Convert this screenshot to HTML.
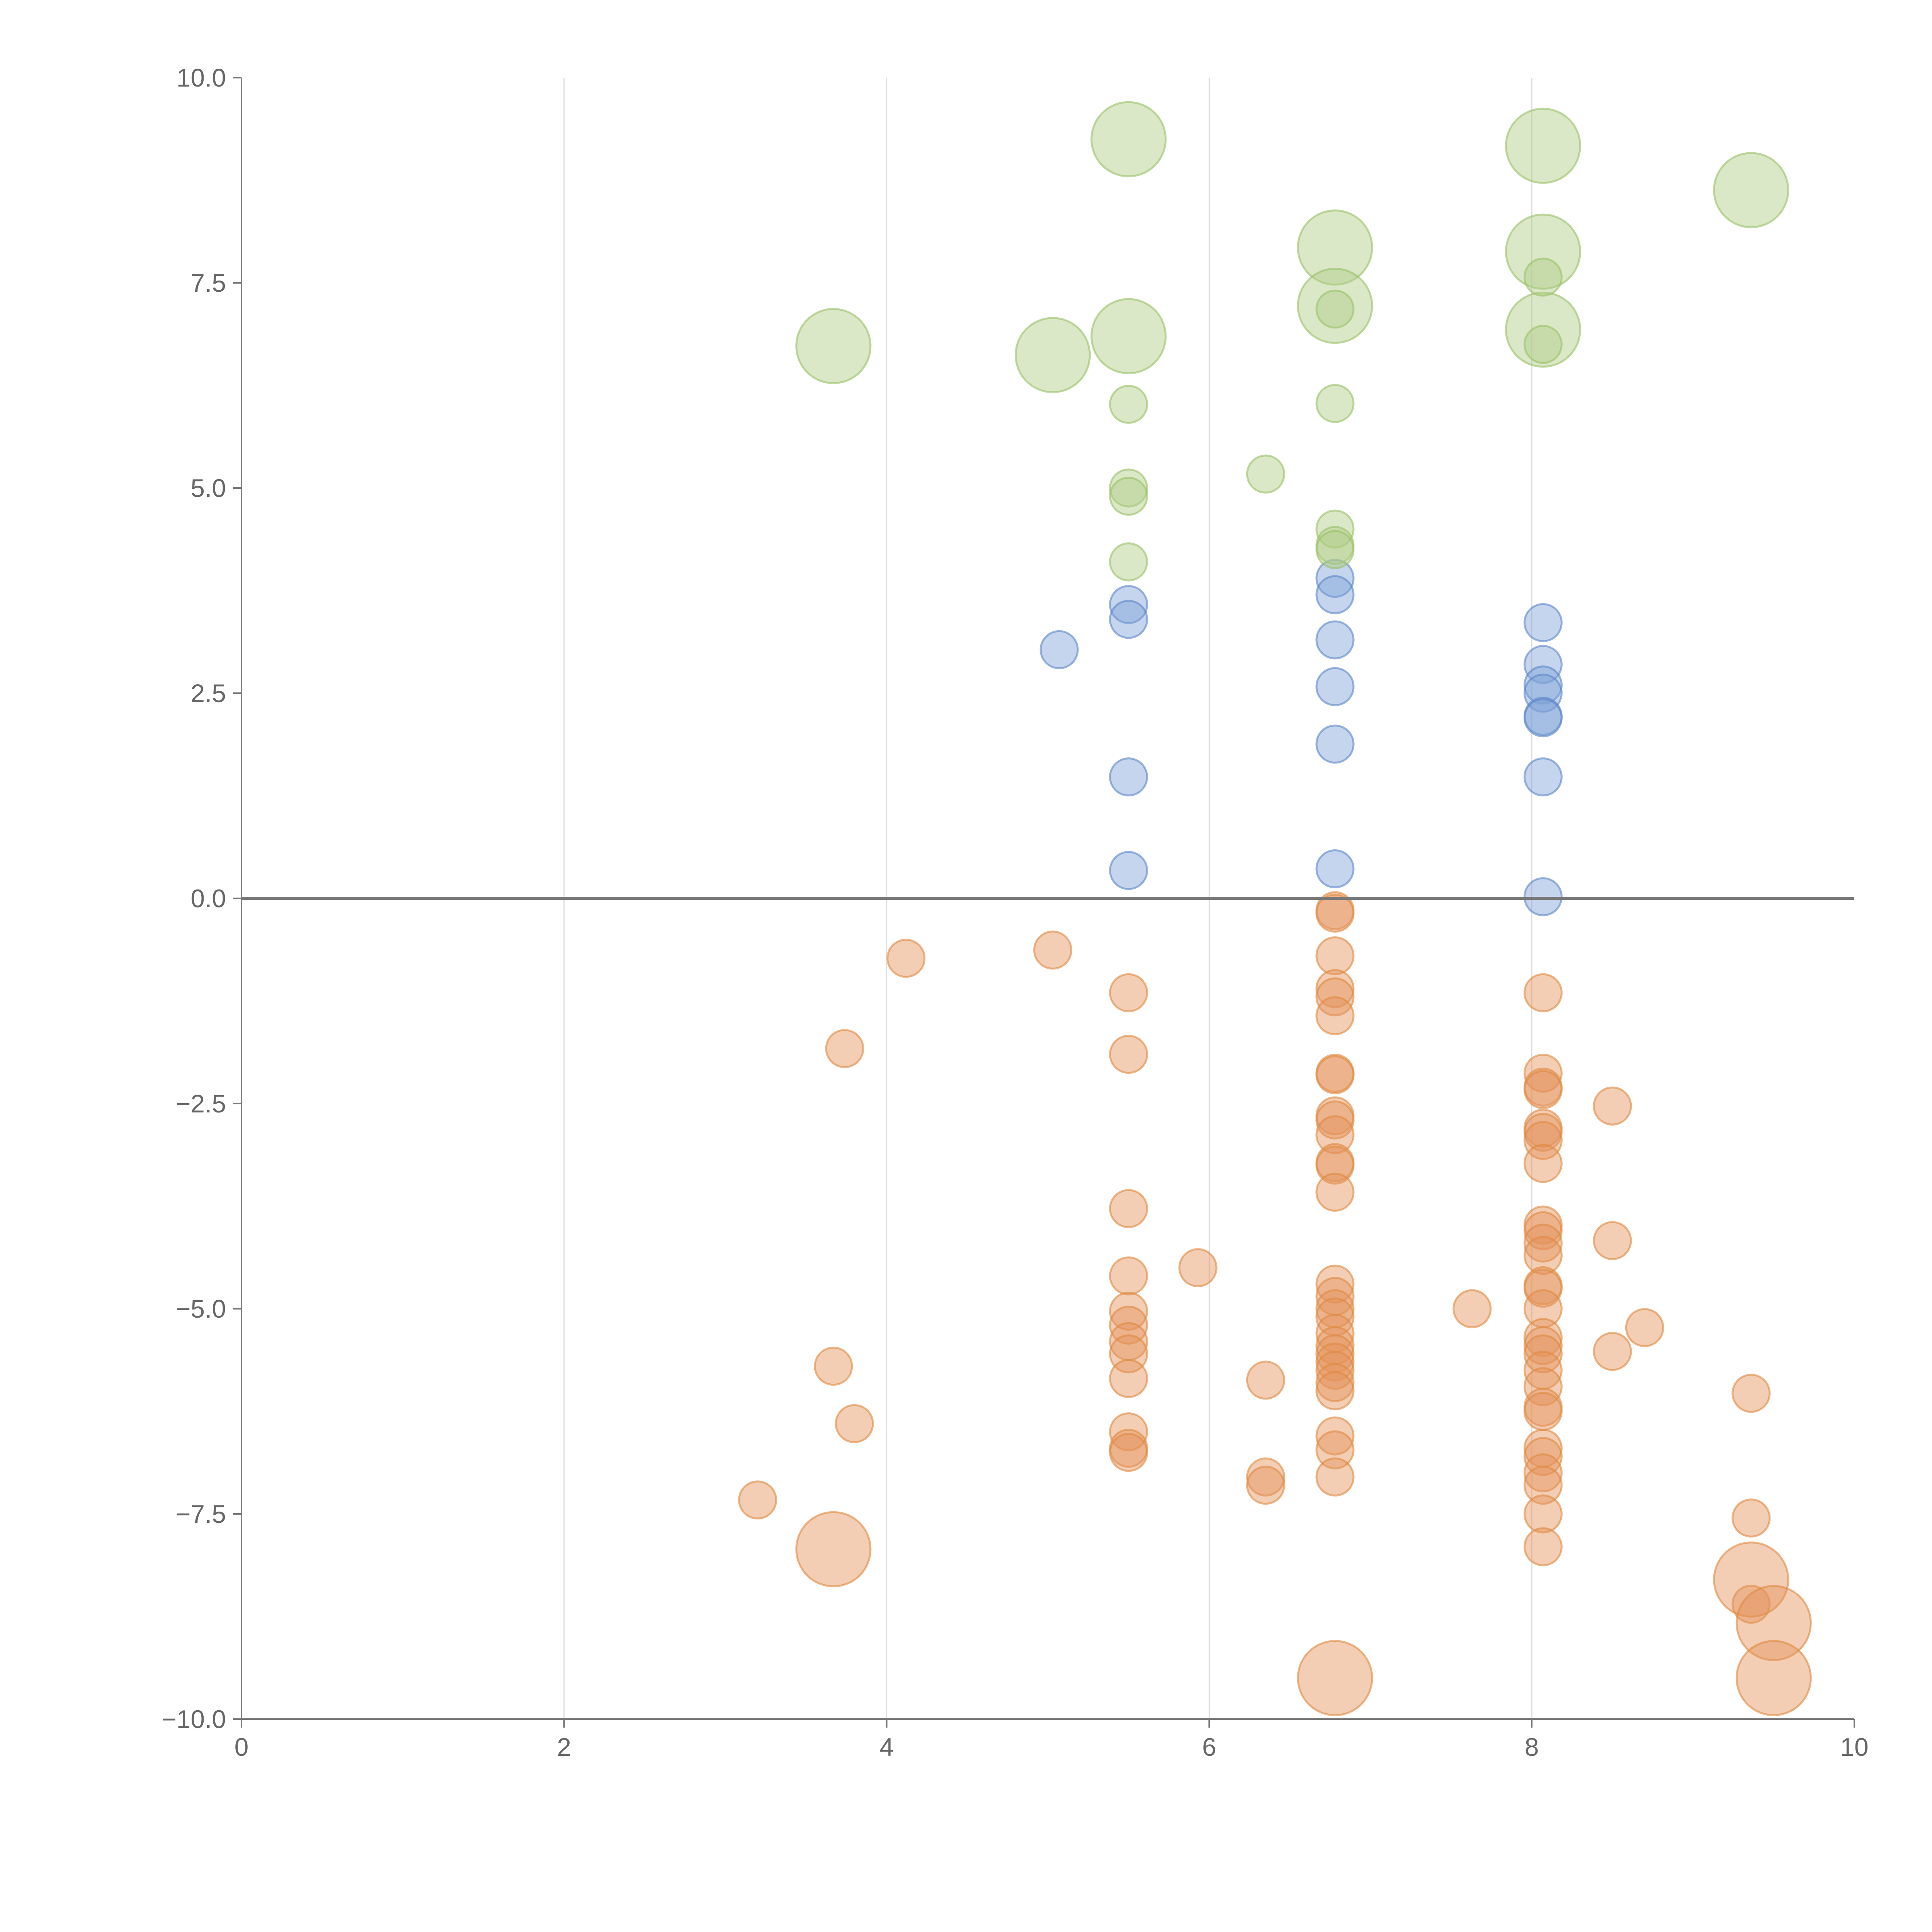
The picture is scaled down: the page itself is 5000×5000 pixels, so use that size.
<!DOCTYPE html>
<html><head><meta charset="utf-8">
<style>
html,body{margin:0;padding:0;background:#fff;}
svg{display:block;font-family:"Liberation Sans",Arial,sans-serif;}
</style></head>
<body>
<svg id="chart" width="5000" height="5000" viewBox="0 0 5000 5000" xmlns="http://www.w3.org/2000/svg"></svg>
<script>
const xTicks = [0, 2, 4, 6, 8, 10];
const yTicks = [-10, -7.5, -5, -2.5, 0, 2.5, 5, 7.5, 10];
const yTickLabels = ["\u221210.0", "\u22127.5", "\u22125.0", "\u22122.5", "0.0", "2.5", "5.0", "7.5", "10.0"];
const greenX = [5.5,8.07,9.36,6.78,8.07,6.78,8.07,3.67,5.03,5.5, 8.07,6.78,8.07,5.5,6.78,6.35,5.5,5.5,6.78,6.78,6.78,5.5];
const greenY = [9.25,9.17,8.63,7.93,7.88,7.22,6.93,6.73,6.62,6.85, 7.57,7.18,6.75,6.02,6.03,5.17,5.0,4.9,4.5,4.3,4.25,4.1];
const greenS = [4,4,4,4,4,4,4,4,4,4, 1,1,1,1,1,1,1,1,1,1,1,1];
const blueX = [5.5,5.5,5.07,6.78,6.78,6.78,6.78,6.78,6.78,5.5,5.5,8.07,8.07,8.07,8.07,8.07,8.07,8.07,8.07];
const blueY = [3.58,3.4,3.03,3.9,3.7,3.15,2.58,1.88,0.36,1.48,0.34,3.36,2.85,2.6,2.5,2.22,2.2,1.48,0.02];
const orangeX = [4.12,5.03,3.74,5.5,5.5,6.78,6.78,6.78,6.78,6.78,6.78,6.78,6.78,6.78,6.78,6.78,6.78,6.78,6.78,5.5,5.93,5.5,5.5,5.5,5.5,5.5,5.5,5.5,5.5,5.5,6.78,6.78,6.78,6.78,6.78,6.78,6.78,6.78,6.78,6.78,6.78,6.78,6.78,6.78,6.35,6.35,6.35,3.67,3.8,3.2,7.63,8.07,8.07,8.07,8.07,8.07,8.07,8.07,8.07,8.07,8.07,8.07,8.07,8.07,8.07,8.07,8.07,8.07,8.07,8.07,8.07,8.07,8.07,8.07,8.07,8.07,8.07,8.07,8.07,8.5,8.5,8.5,8.7,9.36,9.36,9.36, 3.67,6.78,9.36,9.5,9.5];
const orangeY = [-0.73,-0.63,-1.83,-1.15,-1.9,-0.15,-0.18,-0.7,-1.1,-1.2,-1.43,-2.13,-2.15,-2.65,-2.7,-2.88,-3.22,-3.25,-3.58,-3.78,-4.5,-4.6,-5.03,-5.2,-5.4,-5.55,-5.85,-6.5,-6.7,-6.75,-4.7,-4.85,-5.0,-5.1,-5.3,-5.45,-5.55,-5.65,-5.75,-5.9,-6.0,-6.55,-6.72,-7.05,-5.87,-7.05,-7.15,-5.7,-6.4,-7.33,-5.0,-1.15,-2.13,-2.3,-2.33,-2.8,-2.85,-2.95,-3.23,-3.98,-4.05,-4.2,-4.35,-4.72,-4.75,-5.0,-5.35,-5.45,-5.55,-5.75,-5.95,-6.2,-6.25,-6.7,-6.8,-7.0,-7.15,-7.5,-7.9,-2.53,-4.17,-5.52,-5.23,-6.03,-7.55,-8.6, -7.93,-9.5,-8.3,-8.83,-9.5];
const orangeS = orangeX.map((_, i) => i >= orangeX.length - 5 ? 4 : 1);

const NS = "http://www.w3.org/2000/svg";
const svg = document.getElementById("chart");
const X0 = 625, X1 = 4799, Y0 = 4449, Y1 = 201;
const sx = v => X0 + (v - 0) / 10 * (X1 - X0);
const sy = v => Y0 - (v + 10) / 20 * (Y0 - Y1);
const sr = s => 48 * Math.sqrt(s);
function mk(tag, attrs) { const e = document.createElementNS(NS, tag); for (const k in attrs) e.setAttribute(k, attrs[k]); svg.appendChild(e); return e; }

// gridlines
xTicks.forEach(t => {
  if (t === 0 || t === 10) return;
  const g = mk("line", {x1: sx(t), x2: sx(t), y1: Y1, y2: Y0, stroke: "#dddddd", "stroke-width": 3});
  
  
});
// axes
const ya = mk("line", {x1: X0, x2: X0, y1: Y1, y2: Y0, stroke: "#777", "stroke-width": 4});


const xa = mk("line", {x1: X0, x2: X1, y1: Y0, y2: Y0, stroke: "#777", "stroke-width": 4});


xTicks.forEach(t => {
  const tk = mk("line", {x1: sx(t), x2: sx(t), y1: Y0, y2: Y0 + 22, stroke: "#777", "stroke-width": 4});
  
  
  const tx = mk("text", {x: sx(t), y: Y0 + 95, "text-anchor": "middle", "font-size": 66, fill: "#666"});
  tx.textContent = String(t);
  
  
});
yTicks.forEach((t, i) => {
  const tk = mk("line", {x1: X0 - 22, x2: X0, y1: sy(t), y2: sy(t), stroke: "#777", "stroke-width": 4});
  
  
  const tx = mk("text", {x: X0 - 40, y: sy(t) + 23, "text-anchor": "end", "font-size": 66, fill: "#666"});
  tx.textContent = yTickLabels[i];
  
  
});

function drawSeries(xs, ys, ss, fill, stroke, name) {
  xs.forEach((x, i) => {
    const c = mk("circle", {cx: sx(x), cy: sy(ys[i]), r: sr(ss ? ss[i] : 1), fill: fill, "fill-opacity": 0.45, stroke: stroke, "stroke-opacity": 0.6, "stroke-width": 5});
    
    
  });
}
drawSeries(orangeX, orangeY, orangeS, "#e4935a", "#e0893f", "orange-bubble");
drawSeries(blueX, blueY, null, "#7fa2d6", "#5b86c8", "blue-bubble");
drawSeries(greenX, greenY, greenS, "#afcc86", "#98bf66", "green-bubble");

// zero line
const z = mk("line", {x1: X0, x2: X1, y1: sy(0), y2: sy(0), stroke: "#777", "stroke-width": 8});


</script>
</body></html>
